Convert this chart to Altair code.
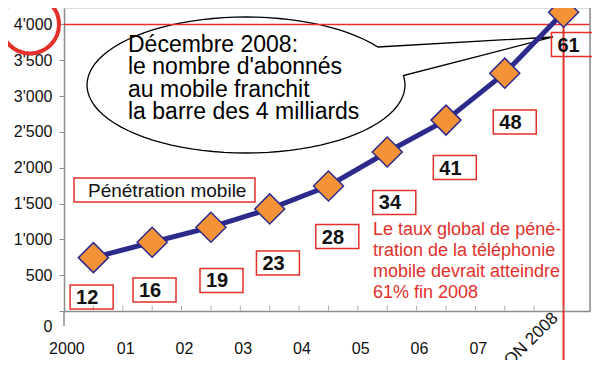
import math
import altair as alt
import pandas as pd

# ---------------- data ----------------
years = [2000, 2001, 2002, 2003, 2004, 2005, 2006, 2007, 2008]
subscribers = [745, 960, 1170, 1425, 1745, 2220, 2665, 3320, 4170]   # millions
penetration = [12, 16, 19, 23, 28, 34, 41, 48, 61]                   # %
year_labels = ["2000", "01", "02", "03", "04", "05", "06", "07"]
label_2008 = "ESTIMATION 2008"
y_ticks = [0, 500, 1000, 1500, 2000, 2500, 3000, 3500, 4000]
minor_ticks = [2000, 2000.5, 2001, 2001.5, 2002, 2002.5, 2003, 2003.5, 2004,
               2004.5, 2005, 2005.5, 2006, 2006.5, 2007, 2007.5, 2008]
threshold = [4000]

# annotation anchors (data units) for the penetration boxes
box_year = [1999.97, 2001.04, 2002.18, 2003.14, 2004.15, 2005.12, 2006.15, 2007.17, 2008.16]
box_level = [195, 293, 426, 670, 1040, 1515, 2003, 2638, 3720]

bubble_lines = ["Décembre 2008:", "le nombre d'abonnés", "au mobile franchit",
                "la barre des 4 milliards"]
note_lines = ["Le taux global de péné-", "tration de la téléphonie",
              "mobile devrait atteindre", "61% fin 2008"]
legend_text = "Pénétration mobile"

# ---------------- styles ----------------
FONT = "Liberation Sans"
RED = "#E2302A"
NAVY = "#2C2B8C"
ORANGE = "#F39237"
GRAY = "#8C8C8C"
W, H = 526, 303
BOX_HW, BOX_HH = 0.366, 168

xs = alt.Scale(domain=[1999.5, 2008.45], nice=False, zero=False)
ys = alt.Scale(domain=[0, 4230], nice=False, zero=False)

label_arr = "[" + ",".join("'%s'" % s for s in year_labels) + "]"
xaxis = alt.Axis(values=years[:-1], labelExpr=label_arr + "[datum.value - 2000]",
                 labelOffset=-27, ticks=False, tickSize=0, labelPadding=29,
                 domainColor=GRAY, domainWidth=1.5, grid=False, title=None,
                 labelFontSize=16, labelColor="#111", labelFont=FONT)
yaxis = alt.Axis(values=y_ticks,
                 labelExpr="replace(format(datum.value, ','), ',', \"'\")",
                 labelOffset={"condition": {"test": "datum.value == 0", "value": 15}, "value": 0},
                 tickSize=5, tickColor=GRAY, domainColor=GRAY, domainWidth=1.5,
                 grid=False, title=None, labelPadding=7,
                 labelFontSize=16, labelColor="#111", labelFont=FONT)


def X(f):
    return alt.X(f, type="quantitative", scale=xs, axis=xaxis)


def Y(f):
    return alt.Y(f, type="quantitative", scale=ys, axis=yaxis)


df = pd.DataFrame({"year": years, "subs": subscribers, "pen": penetration,
                   "by": box_year, "bl": box_level})

# speech bubble shape (ellipse + tail), unit = horizontal radius
k = 68 / 159
pts = []
t = -34.0
while t >= -368.0:
    r = math.radians(t)
    pts.append((math.cos(r), k * math.sin(r)))
    t -= 4.0
r = math.radians(-368.0)
pts.append((math.cos(r), k * math.sin(r)))
pts.append((1.931, -0.302))
path = "M" + " L".join("%.4f %.4f" % p for p in pts) + " Z"

bubble_df = pd.DataFrame({"x": [2002.597], "y": [3155]})
bubble = alt.Chart(bubble_df).mark_point(
    shape=path, filled=True, fill="white", stroke="black", strokeWidth=1.3,
    size=318 * 318, opacity=1
).encode(x=X("x"), y=Y("y"))

bubble_text = alt.Chart(pd.DataFrame({"x": [2000.589], "y": [3616],
                                      "t": ["\n".join(bubble_lines)]})).mark_text(
    align="left", baseline="alphabetic", fontSize=23, lineHeight=22.5,
    lineBreak="\n", font=FONT, color="black"
).encode(x=X("x"), y=Y("y"), text="t:N")

thr_df = pd.DataFrame({"v": threshold})
hline = alt.Chart(thr_df).mark_rule(color=RED, strokeWidth=1.5).encode(y=Y("v"))
vline = alt.Chart(pd.DataFrame({"v": [years[-1]]})).mark_rule(
    color=RED, strokeWidth=2).encode(x=X("v"), y=alt.value(0), y2=alt.value(356))
frame = alt.Chart(thr_df).mark_rule(color=GRAY, strokeWidth=1.5).encode(
    x=alt.value(W), y=alt.value(0), y2=alt.value(H))
yext = alt.Chart(thr_df).mark_rule(color=GRAY, strokeWidth=1.5).encode(
    x=alt.value(0), y=alt.value(H), y2=alt.value(H + 15))
circle = alt.Chart(thr_df).mark_point(
    shape="circle", filled=False, size=58 * 58, strokeWidth=4, color=RED, opacity=1
).encode(x=alt.value(-34), y=Y("v"))

ticks = alt.Chart(pd.DataFrame({"t": minor_ticks})).mark_tick(
    color=GRAY, thickness=1, size=5).encode(x=X("t"), y=alt.value(300))

line = alt.Chart(df).mark_line(color=NAVY, strokeWidth=5).encode(x=X("year"), y=Y("subs"))
pts_layer = alt.Chart(df).mark_point(
    shape="diamond", filled=True, fill=ORANGE, stroke=NAVY, strokeWidth=1.5,
    size=900, opacity=1).encode(x=X("year"), y=Y("subs"))

boxes = alt.Chart(df).transform_calculate(
    x0="datum.by - %f" % BOX_HW, x1="datum.by + %f" % BOX_HW,
    y0="datum.bl - %f" % BOX_HH, y1="datum.bl + %f" % BOX_HH
).mark_rect(fillOpacity=0, stroke=RED, strokeWidth=1.5).encode(
    x=X("x0"), x2="x1:Q", y=Y("y0"), y2="y1:Q")
box_text = alt.Chart(df).transform_calculate(
    x0="datum.by - %f" % BOX_HW
).mark_text(align="left", baseline="alphabetic", dx=6, dy=7, fontSize=20,
            fontWeight="bold", font=FONT, color="#111").encode(
    x=X("x0"), y=Y("bl"), text="pen:N")

leg_df = pd.DataFrame({"x0": [1999.67], "x1": [2002.75], "y0": [1522], "y1": [1857],
                       "ty": [1591], "t": [legend_text]})
leg_box = alt.Chart(leg_df).mark_rect(fillOpacity=0, stroke=RED, strokeWidth=1.5).encode(
    x=X("x0"), x2="x1:Q", y=Y("y0"), y2="y1:Q")
leg_text = alt.Chart(leg_df).mark_text(
    align="left", baseline="alphabetic", dx=14, fontSize=19, font=FONT, color="#111"
).encode(x=X("x0"), y=Y("ty"), text="t:N")

note = alt.Chart(pd.DataFrame({"x": [2004.758], "y": [1061],
                               "t": ["\n".join(note_lines)]})).mark_text(
    align="left", baseline="alphabetic", fontSize=18, lineHeight=21.1,
    lineBreak="\n", font=FONT, color=RED
).encode(x=X("x"), y=Y("y"), text="t:N")

lab2008 = alt.Chart(pd.DataFrame({"x": [2007.92], "t": [label_2008]})).mark_text(
    align="right", baseline="alphabetic", angle=315, fontSize=17, font=FONT, color="#111"
).encode(x=X("x"), y=alt.value(311), text="t:N")

chart = alt.layer(
    bubble, hline, vline, frame, yext, ticks, line, pts_layer,
    boxes, box_text, leg_box, leg_text, bubble_text, note, lab2008, circle
).properties(
    width=W, height=H,
    padding={"left": 56, "top": 0, "right": 2, "bottom": 49},
    autosize=alt.AutoSizeParams(type="none"),
    background="white",
).configure_view(strokeWidth=0).configure(font=FONT)

chart.save("out.html", embed_options={"renderer": "svg", "actions": False})
